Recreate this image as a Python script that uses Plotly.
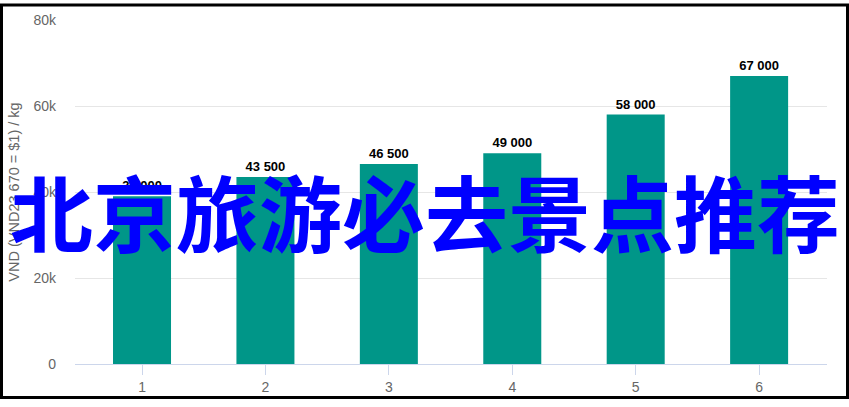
import plotly.graph_objects as go

# chart data
categories = [1, 2, 3, 4, 5, 6]
prices = [39000, 43500, 46500, 49000, 58000, 67000]
price_labels = ["39 000", "43 500", "46 500", "49 000", "58 000", "67 000"]
y_ticks = [0, 20000, 40000, 60000, 80000]
y_tick_text = ["0", "20k", "40k", "60k", "80k"]
overlay_text = "北京旅游必去景点推荐"

W, H = 849, 407
ML, MR, MT, MB = 75, 22, 17, 36
PW, PH = W - ML - MR, H - MT - MB

fig = go.Figure()
fig.add_trace(go.Bar(
    x=categories,
    y=prices,
    width=0.47,
    marker=dict(color="#009688", line=dict(width=0)),
    text=price_labels,
    textposition="outside",
    textfont=dict(family="Liberation Sans, Arial", size=13, color="#000000",
                  weight="bold"),
    cliponaxis=False,
    hoverinfo="x+y",
))

# overlay caption across the chart
fig.add_annotation(
    text=f"<b>{overlay_text}</b>",
    xref="paper", yref="paper",
    x=(425 - ML) / PW, y=(H - MB - 213) / PH,
    showarrow=False,
    font=dict(family="Noto Sans CJK SC", size=83, color="#0000FF"),
)

# black frame round the whole picture
fig.add_shape(
    type="rect", xref="paper", yref="paper",
    x0=(1.5 - ML) / PW, x1=(W - 1.5 - ML) / PW,
    y0=(-MB + 1.5) / PH, y1=(H - MB - 1.5) / PH,
    line=dict(color="#000000", width=3),
    layer="above",
)

fig.update_layout(
    width=W, height=H,
    margin=dict(l=ML, r=MR, t=MT, b=MB),
    paper_bgcolor="#ffffff",
    plot_bgcolor="#ffffff",
    showlegend=False,
    font=dict(family="Liberation Sans, Arial", color="#666666"),
)
fig.update_xaxes(
    range=[0.457, 6.55],
    tickvals=categories,
    ticktext=[str(c) for c in categories],
    showgrid=False,
    showline=True, linecolor="#ccd6eb", linewidth=1,
    ticks="outside", ticklen=10, tickcolor="#ccd6eb",
    tickfont=dict(size=14, color="#666666"),
    zeroline=False,
)
fig.update_yaxes(
    range=[0, 80000],
    tickvals=y_ticks,
    ticktext=y_tick_text,
    showgrid=True, gridcolor="#e6e6e6", gridwidth=1,
    zeroline=False,
    showline=False,
    ticks="",
    ticklabelstandoff=18,
    tickfont=dict(size=14, color="#666666"),
    title=dict(text="VND (VND23 670 = $1) / kg", standoff=10,
               font=dict(size=14.5, color="#666666")),
)

# drop the page margin and scrolling so the figure fills the window exactly
page_js = (
    "document.documentElement.style.margin='0';"
    "document.documentElement.style.overflow='hidden';"
    "document.body.style.margin='0';"
    "document.body.style.overflow='hidden';"
)
fig.write_html("out.html", config={"displayModeBar": False}, post_script=page_js)
